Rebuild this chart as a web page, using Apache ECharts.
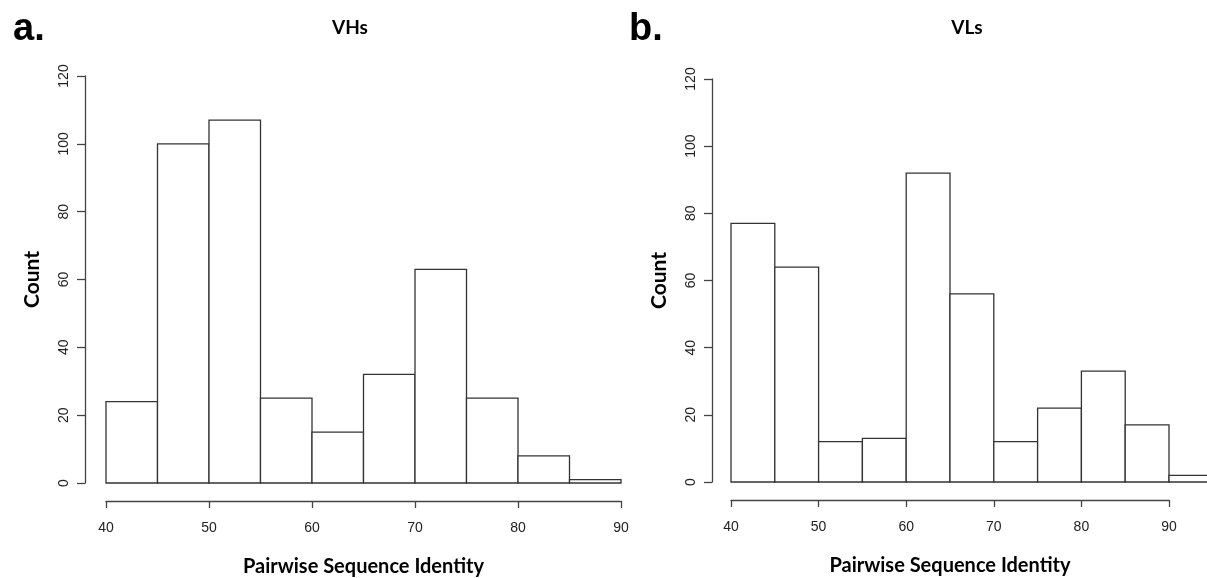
<!DOCTYPE html>
<html>
<head>
<meta charset="utf-8">
<script src="https://cdn.jsdelivr.net/npm/echarts@6/dist/echarts.min.js"></script>
<style>
  html, body { margin: 0; padding: 0; background: #fff; }
  #main { width: 1207px; height: 578px; }
</style>
</head>
<body>
<div id="main"></div>
<script>
// histogram bins (left edge of each 5-wide bin)
var vhBins = [40, 45, 50, 55, 60, 65, 70, 75, 80, 85];
var vhCounts = [24, 100, 107, 25, 15, 32, 63, 25, 8, 1];
var vlBins = [40, 45, 50, 55, 60, 65, 70, 75, 80, 85, 90];
var vlCounts = [77, 64, 12, 13, 92, 56, 12, 22, 33, 17, 2];
var binWidth = 5;
var xTicks = [40, 50, 60, 70, 80, 90];
var yTicks = [0, 20, 40, 60, 80, 100, 120];

var tickFont = '"Liberation Sans", Arial, sans-serif';
var titleFont = 'Lato, "Open Sans", sans-serif';
var lineCol = '#333';

function toData(bins, counts) {
  return bins.map(function (b, i) { return [b, b + binWidth, counts[i]]; });
}

function renderItem(params, api) {
  var p0 = api.coord([api.value(0), api.value(2)]);
  var p1 = api.coord([api.value(1), 0]);
  return {
    type: 'rect',
    shape: { x: p0[0], y: p0[1], width: p1[0] - p0[0], height: p1[1] - p0[1] },
    style: { fill: '#fff', stroke: lineCol, lineWidth: 1.3 }
  };
}

function xAxisOpt(idx) {
  return {
    type: 'value', gridIndex: idx,
    min: xTicks[0], max: xTicks[xTicks.length - 1], interval: 10,
    offset: 18,
    name: 'Pairwise Sequence Identity',
    nameLocation: 'middle', nameGap: 56,
    nameTextStyle: { fontFamily: titleFont, fontWeight: 'bold', fontSize: 20, color: '#000' },
    axisLine: { show: true, onZero: false, lineStyle: { color: '#444', width: 1.3 } },
    axisTick: { show: true, length: 7, lineStyle: { color: '#444', width: 1.3 } },
    axisLabel: { margin: 20, fontFamily: tickFont, fontSize: 14, color: '#222' },
    splitLine: { show: false }
  };
}

function yAxisOpt(idx, off) {
  return {
    type: 'value', gridIndex: idx,
    min: yTicks[0], max: yTicks[yTicks.length - 1], interval: 20,
    offset: off,
    name: 'Count',
    nameLocation: 'middle', nameGap: 42, nameRotate: 90,
    nameTextStyle: { fontFamily: titleFont, fontWeight: 'bold', fontSize: 21, color: '#000' },
    axisLine: { show: true, onZero: false, lineStyle: { color: '#444', width: 1.3 } },
    axisTick: { show: true, length: 8, lineStyle: { color: '#444', width: 1.3 } },
    axisLabel: { rotate: 90, margin: 14, fontFamily: tickFont, fontSize: 14, color: '#222' },
    splitLine: { show: false }
  };
}

var myChart = echarts.init(document.getElementById('main'));
var options = {
  animation: false,
  title: [
    { text: 'a.', left: 8, top: 6, textStyle: { fontFamily: tickFont, fontWeight: 'bold', fontSize: 38, color: '#000' } },
    { text: 'b.', left: 624, top: 6, textStyle: { fontFamily: tickFont, fontWeight: 'bold', fontSize: 38, color: '#000' } },
    { text: 'VHs', left: 345, top: 13, textAlign: 'center', textStyle: { fontFamily: titleFont, fontWeight: 'bold', fontSize: 19, color: '#000' } },
    { text: 'VLs', left: 962, top: 13, textAlign: 'center', textStyle: { fontFamily: titleFont, fontWeight: 'bold', fontSize: 19, color: '#000' } }
  ],
  grid: [
    { left: 106, top: 76, width: 515, height: 407, outerBoundsMode: 'none', containLabel: false },
    { left: 731, top: 79, width: 438, height: 403, outerBoundsMode: 'none', containLabel: false }
  ],
  xAxis: [xAxisOpt(0), xAxisOpt(1)],
  yAxis: [yAxisOpt(0, 21), yAxisOpt(1, 19)],
  series: [
    {
      name: 'VHs', type: 'custom', xAxisIndex: 0, yAxisIndex: 0,
      renderItem: renderItem, clip: false,
      encode: { x: [0, 1], y: 2 },
      data: toData(vhBins, vhCounts)
    },
    {
      name: 'VLs', type: 'custom', xAxisIndex: 1, yAxisIndex: 1,
      renderItem: renderItem, clip: false,
      encode: { x: [0, 1], y: 2 },
      data: toData(vlBins, vlCounts)
    }
  ]
};
myChart.setOption(options);
</script>
</body>
</html>
